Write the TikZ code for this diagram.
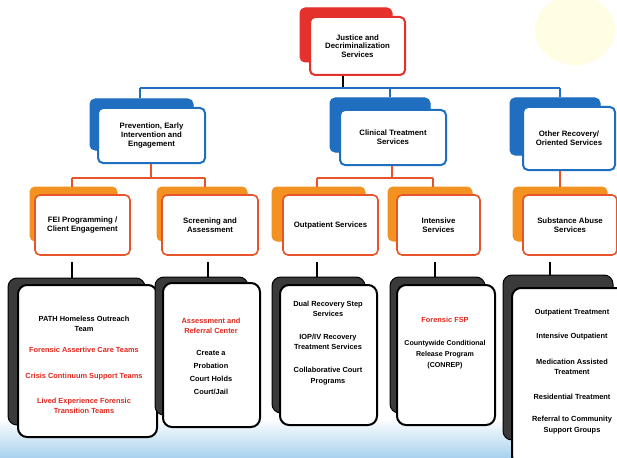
\documentclass[tikz,border=0pt]{standalone}
\usepackage{fontspec}
\setmainfont{Liberation Sans}
\definecolor{cRed}{HTML}{E4312B}
\definecolor{cBlue}{HTML}{1F6EC0}
\definecolor{cOrange}{HTML}{F39220}
\definecolor{cOrBorder}{HTML}{E8542A}
\definecolor{cDark}{HTML}{3A3A3A}
\definecolor{cSky}{HTML}{A9D3EE}
\definecolor{cTxtRed}{HTML}{E0261C}
\begin{document}
\begin{tikzpicture}[x=1pt,y=-1pt,
  bx/.style={rectangle, rounded corners=5pt, inner sep=1pt, align=center,
     font=\fontsize{7.8}{8.6}\selectfont\bfseries},
  redback/.style={bx, fill=cRed, draw=cRed, line width=1pt},
  redfront/.style={bx, fill=white, draw=cRed, line width=2pt},
  blueback/.style={bx, fill=cBlue, draw=cBlue, line width=1pt},
  bluefront/.style={bx, fill=white, draw=cBlue, line width=2pt},
  orback/.style={bx, fill=cOrange, draw=cOrange, line width=1pt},
  orfront/.style={bx, fill=white, draw=cOrBorder, line width=1.6pt},
  dkback/.style={bx, rounded corners=9pt, fill=cDark, draw=black, line width=1pt},
  dkfront/.style={bx, rounded corners=9pt, fill=white, draw=black, line width=2pt},
  txt/.style={align=center, inner sep=0pt, font=\fontsize{7.4}{10.5}\selectfont\bfseries},
  rtxt/.style={txt, text=cTxtRed},
  bline/.style={draw=cBlue, line width=1.5pt},
  oline/.style={draw=cOrBorder, line width=1.5pt},
  kline/.style={draw=black, line width=1.5pt}
]
\useasboundingbox (0,0) rectangle (617,457);
% background
\fill[white] (0,0) rectangle (617,457);
\shade[top color=white, bottom color=cSky] (0,418) rectangle (617,457);
\fill[yellow!30, opacity=0.35] (575,30) ellipse (40 and 35);

% level 1
\node[redback, minimum width=92, minimum height=54] (topb) at (346,35) {};
\node[redfront, minimum width=95, minimum height=58] (top) at (357.5,46) {Justice and\\Decriminalization\\Services};

% level 2
\node[blueback, minimum width=103, minimum height=51] (prevb) at (141.5,124.5) {};
\node[bluefront, minimum width=107, minimum height=55] (prev) at (151.5,135.5) {Prevention, Early\\Intervention and\\Engagement};
\node[blueback, minimum width=100, minimum height=54] (clinb) at (380,125) {};
\node[bluefront, minimum width=106, minimum height=55] (clin) at (393,137.5) {Clinical Treatment\\Services};
\node[blueback, minimum width=90, minimum height=57] (othb) at (555,126.5) {};
\node[bluefront, minimum width=92, minimum height=63] (oth) at (569,138.5) {Other Recovery/\\Oriented Services};

% level 3
\node[orback, minimum width=87, minimum height=54] (feib) at (73.5,214) {};
\node[orfront, minimum width=95, minimum height=60] (fei) at (82.5,225) {FEI Programming /\\Client Engagement};
\node[orback, minimum width=90, minimum height=54] (scrb) at (202,214) {};
\node[orfront, minimum width=96, minimum height=60] (scr) at (210,225) {Screening and\\Assessment};
\node[orback, minimum width=93, minimum height=54] (outb) at (318.5,214) {};
\node[orfront, minimum width=95, minimum height=60] (out) at (330.5,225) {Outpatient Services};
\node[orback, minimum width=84, minimum height=54] (intb) at (430,214) {};
\node[orfront, minimum width=83, minimum height=60] (int) at (438.5,225) {Intensive\\Services};
\node[orback, minimum width=94, minimum height=54] (subb) at (560,214) {};
\node[orfront, minimum width=94, minimum height=60] (sub) at (570,225) {Substance Abuse\\Services};

% level 4
\node[dkback, minimum width=137, minimum height=147] (d1b) at (76.5,351.5) {};
\node[dkfront, minimum width=139, minimum height=152] (d1) at (87.5,361) {};
\node[dkback, minimum width=93, minimum height=138] (d2b) at (201.5,346) {};
\node[dkfront, minimum width=97, minimum height=144] (d2) at (211.5,355) {};
\node[dkback, minimum width=93, minimum height=136] (d3b) at (318.5,345) {};
\node[dkfront, minimum width=97, minimum height=140] (d3) at (328.5,355) {};
\node[dkback, minimum width=95, minimum height=136] (d4b) at (437.5,345) {};
\node[dkfront, minimum width=98, minimum height=140] (d4) at (446,355) {};
\node[dkback, minimum width=110, minimum height=165] (d5b) at (558,357.5) {};
\node[dkfront, minimum width=113, minimum height=177] (d5) at (568.5,376.5) {};

% level 4 texts
\node[txt] (t11) at (84,324) {PATH Homeless Outreach\\Team};
\node[rtxt] (t12) at (84,350) {Forensic Assertive Care Teams};
\node[rtxt] (t13) at (84,377) {Crisis Continuum Support Teams};
\node[rtxt] (t14) at (84,406) {Lived Experience Forensic\\Transition Teams};

\node[rtxt] (t21) at (211,326) {Assessment and\\Referral Center};
\node[txt, font=\fontsize{7.4}{13}\selectfont\bfseries] (t22) at (211,372) {Create a\\Probation\\Court Holds\\Court/Jail};

\node[txt] (t31) at (328,309) {Dual Recovery Step\\Services};
\node[txt] (t32) at (328,342) {IOP/IV Recovery\\Treatment Services};
\node[txt] (t33) at (328,376) {Collaborative Court\\Programs};

\node[rtxt] (t41) at (445,320) {Forensic FSP};
\node[txt, font=\fontsize{7.1}{11}\selectfont\bfseries] (t42) at (445,355) {Countywide Conditional\\Release Program\\(CONREP)};

\node[txt] (t51) at (572,313) {Outpatient Treatment};
\node[txt] (t52) at (572,337) {Intensive Outpatient};
\node[txt] (t53) at (572,367) {Medication Assisted\\Treatment};
\node[txt] (t54) at (572,397) {Residential Treatment};
\node[txt] (t55) at (572,425) {Referral to Community\\Support Groups};

% connectors level 1 -> 2
\coordinate (j1) at (343,88);
\coordinate (ja) at (140,88);
\coordinate (jb) at (390,88);
\coordinate (jc) at (560,88);
\draw[kline] (j1 |- top.south) -- (j1);
\draw[bline] (ja) -- (jc);
\draw[bline] (ja) -- (ja |- prevb.north);
\draw[bline] (jb) -- (jb |- clinb.north);
\draw[bline] (jc) -- (jc |- othb.north);

% level 2 -> 3
\coordinate (p1) at (151,178);
\coordinate (pa) at (72,178);
\coordinate (pb) at (205,178);
\draw[oline] (p1 |- prev.south) -- (p1);
\draw[oline] (pa) -- (pb);
\draw[oline] (pa) -- (pa |- feib.north);
\draw[oline] (pb) -- (pb |- scrb.north);
\coordinate (c1) at (392,178);
\coordinate (ca) at (317,178);
\coordinate (cb) at (433,178);
\draw[oline] (c1 |- clin.south) -- (c1);
\draw[oline] (ca) -- (cb);
\draw[oline] (ca) -- (ca |- outb.north);
\draw[oline] (cb) -- (cb |- intb.north);
\coordinate (o1) at (560,178);
\draw[oline] (o1 |- oth.south) -- (o1 |- subb.north);

% level 3 -> 4
\coordinate (k1) at (72,262);
\coordinate (k2) at (208,262);
\coordinate (k3) at (317,262);
\coordinate (k4) at (435,262);
\coordinate (k5) at (550,262);
\draw[kline] (k1) -- (k1 |- d1b.north);
\draw[kline] (k2) -- (k2 |- d2b.north);
\draw[kline] (k3) -- (k3 |- d3b.north);
\draw[kline] (k4) -- (k4 |- d4b.north);
\draw[kline] (k5) -- (k5 |- d5b.north);
\end{tikzpicture}
\end{document}
